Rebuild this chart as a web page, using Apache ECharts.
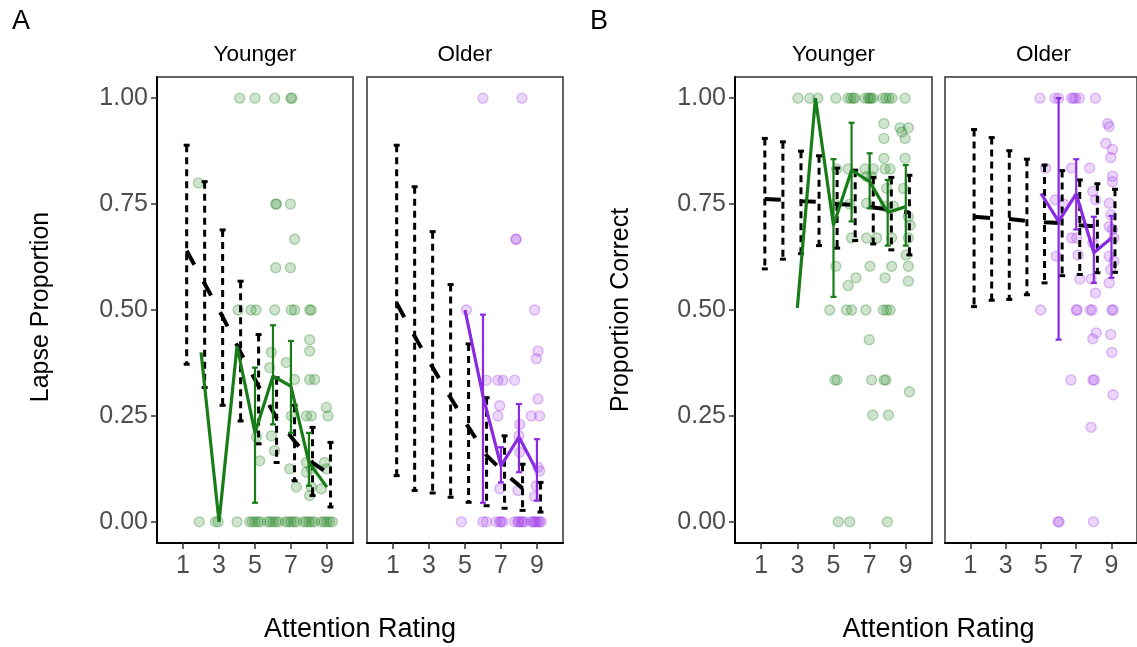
<!DOCTYPE html>
<html><head><meta charset="utf-8">
<script src="https://cdn.jsdelivr.net/npm/echarts@6/dist/echarts.min.js"></script>
<style>html,body{margin:0;padding:0;background:#fff}#c{width:1137px;height:647px}</style>
</head><body><div id="c"></div><script>
// ---------------- DATA ----------------
const ratings = [1,2,3,4,5,6,7,8,9];
const xTicks = [1,3,5,7,9];
const yTicks = [0,0.25,0.5,0.75,1];
const panelLetters = ['A','B'];
const groupNames = ['Younger','Older'];
const yTitles = ['Lapse Proportion','Proportion Correct'];
const xTitle = 'Attention Rating';

// Panel A – Younger (lapse proportion)
const lapseYoungModelMean = [0.64,0.562,0.484,0.40,0.32,0.245,0.19,0.14,0.11];
const lapseYoungModelLo   = [0.372,0.317,0.275,0.238,0.184,0.14,0.097,0.062,0.035];
const lapseYoungModelHi   = [0.889,0.803,0.689,0.568,0.442,0.34,0.275,0.223,0.1875];
const lapseYoungObsX    = [2,3,4,5,6,7,8,9];
const lapseYoungObsMean = [0.40,0.0,0.415,0.21,0.344,0.32,0.14,0.082];
const lapseYoungObsBarX  = [5,6,7,8];
const lapseYoungObsBarLo = [0.045,0.23,0.21,0.085];
const lapseYoungObsBarHi = [0.364,0.464,0.427,0.21];
const lapseYoungPoints = [
 [1.9,0],[2.8,0],[2.95,0],[4.0,0],[4.7,0],[4.85,0],[5.0,0],[5.15,0],[5.3,0],[5.7,0],[5.85,0],[6.0,0],[6.15,0],[6.3,0],
 [6.7,0],[6.85,0],[7.0,0],[7.15,0],[7.3,0],[7.7,0],[7.85,0],[8.0,0],[8.15,0],[8.3,0],[8.7,0],[8.85,0],[9.0,0],[9.15,0],[9.3,0],
 [4.15,1],[5.0,1],[6.1,1],[7.0,1],[7.05,1],
 [1.85,0.8],[6.15,0.75],[6.2,0.75],[6.97,0.75],[7.2,0.667],[6.15,0.6],[6.97,0.6],
 [4.06,0.5],[4.78,0.5],[5.06,0.5],[6.1,0.5],[7.02,0.5],[7.2,0.5],[8.04,0.5],[8.13,0.5],
 [8.04,0.43],[8.04,0.403],[5.91,0.40],[5.82,0.364],[6.74,0.376],[7.2,0.336],[8.04,0.336],[8.32,0.336],
 [7.02,0.25],[7.86,0.25],[8.13,0.25],[8.97,0.27],[9.06,0.25],[5.91,0.203],[5.08,0.2],[6.09,0.168],[5.26,0.144],
 [6.93,0.125],[7.86,0.14],[8.13,0.125],[7.86,0.117],[8.87,0.14],[8.97,0.125],[7.3,0.082],[8.13,0.082],[8.69,0.078],[8.04,0.062]
];

// Panel A – Older (lapse proportion)
const lapseOldModelMean = [0.516,0.438,0.364,0.293,0.223,0.157,0.115,0.079,0.06];
const lapseOldModelLo   = [0.109,0.074,0.068,0.058,0.046,0.038,0.032,0.027,0.023];
const lapseOldModelHi   = [0.889,0.791,0.685,0.56,0.42,0.293,0.203,0.136,0.093];
const lapseOldObsX    = [5,6,7,8,9];
const lapseOldObsMean = [0.50,0.297,0.132,0.20,0.12];
const lapseOldObsBarX  = [6,7,8,9];
const lapseOldObsBarLo = [0.045,0.093,0.117,0.05];
const lapseOldObsBarHi = [0.489,0.176,0.278,0.195];
const lapseOldPoints = [
 [6.0,1],[8.17,1],[7.82,0.667],[7.85,0.667],[5.08,0.5],[8.87,0.5],[9.06,0.403],[8.97,0.385],
 [6.19,0.334],[6.83,0.334],[7.11,0.334],[7.76,0.334],[6.93,0.274],[6.83,0.25],[9.06,0.29],[8.69,0.25],[9.15,0.25],
 [8.04,0.23],[8.0,0.203],[8.04,0.164],[9.06,0.129],[9.15,0.12],[8.97,0.085],[8.87,0.06],[6.93,0.078],[7.94,0.074],
 [4.8,0],[6.0,0],[6.19,0],[6.74,0],[6.93,0],[7.0,0],[7.11,0],[7.76,0],[7.94,0],[8.0,0],[8.13,0],[8.2,0],[8.32,0],
 [8.69,0],[8.8,0],[8.87,0],[8.95,0],[9.06,0],[9.15,0],[9.24,0]
];

// Panel B – Younger (proportion correct)
const correctYoungModelMean = [0.762,0.760,0.757,0.755,0.75,0.748,0.742,0.737,0.73];
const correctYoungModelLo   = [0.597,0.62,0.633,0.652,0.646,0.664,0.656,0.642,0.63];
const correctYoungModelHi   = [0.905,0.897,0.875,0.864,0.835,0.83,0.813,0.813,0.818];
const correctYoungObsX    = [3,4,5,6,7,8,9];
const correctYoungObsMean = [0.505,1.0,0.70,0.83,0.803,0.73,0.744];
const correctYoungObsBarX  = [5,6,7,8,9];
const correctYoungObsBarLo = [0.531,0.709,0.74,0.652,0.652];
const correctYoungObsBarHi = [0.856,0.942,0.87,0.807,0.842];
const correctYoungPoints = [
 [3.03,1],[3.68,1],[4.14,1],[5.13,1],[5.8,1],[5.96,1],[6.1,1],[6.18,1],[6.74,1],[6.91,1],[7.0,1],[7.07,1],[7.18,1],
 [7.74,1],[7.9,1],[8.07,1],[8.24,1],[8.96,1],
 [7.79,0.94],[8.68,0.93],[8.78,0.92],[9.14,0.93],[8.96,0.905],[7.79,0.905],[7.79,0.858],[8.96,0.858],
 [5.17,0.833],[5.81,0.833],[6.74,0.833],[7.2,0.833],[7.85,0.833],[8.13,0.833],[6.83,0.815],[7.11,0.815],
 [7.94,0.787],[8.87,0.787],[6.83,0.752],[5.07,0.75],[5.9,0.75],[7.85,0.745],[8.31,0.745],[9.14,0.72],[9.24,0.70],
 [6.0,0.67],[6.83,0.67],[7.39,0.67],[8.22,0.67],[9.14,0.67],[9.02,0.63],[9.14,0.603],[9.14,0.568],
 [5.13,0.603],[7.02,0.603],[8.22,0.603],[7.85,0.576],[6.24,0.576],[5.81,0.558],
 [4.79,0.5],[5.72,0.5],[6.0,0.5],[6.79,0.5],[7.76,0.5],[7.94,0.5],[8.13,0.5],[6.98,0.43],
 [5.08,0.335],[5.2,0.335],[7.11,0.335],[7.8,0.335],[7.9,0.335],[9.2,0.307],[7.17,0.252],[8.04,0.252],
 [5.26,0],[5.9,0],[7.98,0]
];

// Panel B – Older (proportion correct)
const correctOldModelMean = [0.72,0.717,0.715,0.71,0.707,0.705,0.70,0.697,0.69];
const correctOldModelLo   = [0.508,0.523,0.525,0.536,0.564,0.581,0.584,0.588,0.589];
const correctOldModelHi   = [0.926,0.907,0.876,0.856,0.842,0.829,0.807,0.798,0.785];
const correctOldObsX    = [5,6,7,8,9];
const correctOldObsMean = [0.775,0.709,0.774,0.635,0.67];
const correctOldObsBarX  = [6,7,8,9];
const correctOldObsBarLo = [0.43,0.69,0.564,0.576];
const correctOldObsBarHi = [1.0,0.856,0.72,0.722];
const correctOldPoints = [
 [4.94,1],[5.79,1],[6.0,1],[6.74,1],[6.85,1],[6.96,1],[7.18,1],[8.09,1],
 [8.78,0.94],[8.87,0.933],[8.68,0.893],[9.06,0.879],[8.96,0.86],[5.26,0.835],[6.74,0.835],[7.76,0.835],
 [9.06,0.816],[9.06,0.803],[7.94,0.78],[8.87,0.752],[5.81,0.76],[6.28,0.75],[8.09,0.76],
 [8.96,0.725],[8.87,0.697],[9.06,0.69],[7.94,0.658],[9.14,0.67],[6.74,0.67],[7.02,0.67],
 [7.11,0.63],[5.87,0.627],[8.87,0.627],[9.14,0.615],[8.96,0.595],[7.2,0.573],[7.85,0.573],[8.87,0.564],[8.09,0.54],
 [4.98,0.5],[7.0,0.5],[7.05,0.5],[7.8,0.5],[7.9,0.5],[9.02,0.5],[9.1,0.5],
 [8.13,0.446],[8.96,0.442],[7.94,0.432],[9.02,0.4],[6.7,0.335],[7.95,0.335],[8.02,0.335],[9.09,0.3],[7.85,0.223],
 [5.97,0],[6.03,0],[7.98,0]
];

// ---------------- STYLE / LAYOUT ----------------
const FONT = "'Liberation Sans', Arial, Helvetica, sans-serif";
const GREEN = '#187c18';
const PURPLE = '#8a2be2';
const DODGE = 0.2;
const grids = [
  {left:157, top:77, width:196, height:466},
  {left:367, top:77, width:196, height:466},
  {left:735, top:77, width:197, height:466},
  {left:945, top:77, width:197, height:466}
];
const panels = [
  {mMean:lapseYoungModelMean, mLo:lapseYoungModelLo, mHi:lapseYoungModelHi, oX:lapseYoungObsX, oMean:lapseYoungObsMean,
   bX:lapseYoungObsBarX, bLo:lapseYoungObsBarLo, bHi:lapseYoungObsBarHi, pts:lapseYoungPoints, color:GREEN, rgb:'34,130,34'},
  {mMean:lapseOldModelMean, mLo:lapseOldModelLo, mHi:lapseOldModelHi, oX:lapseOldObsX, oMean:lapseOldObsMean,
   bX:lapseOldObsBarX, bLo:lapseOldObsBarLo, bHi:lapseOldObsBarHi, pts:lapseOldPoints, color:PURPLE, rgb:'160,60,230'},
  {mMean:correctYoungModelMean, mLo:correctYoungModelLo, mHi:correctYoungModelHi, oX:correctYoungObsX, oMean:correctYoungObsMean,
   bX:correctYoungObsBarX, bLo:correctYoungObsBarLo, bHi:correctYoungObsBarHi, pts:correctYoungPoints, color:GREEN, rgb:'34,130,34'},
  {mMean:correctOldModelMean, mLo:correctOldModelLo, mHi:correctOldModelHi, oX:correctOldObsX, oMean:correctOldObsMean,
   bX:correctOldObsBarX, bLo:correctOldObsBarLo, bHi:correctOldObsBarHi, pts:correctOldPoints, color:PURPLE, rgb:'160,60,230'}
];

function errorBar(gi, data, color, dashed, dodge, capHalf, lw, z) {
  return {
    type:'custom', xAxisIndex:gi, yAxisIndex:gi, z:z, clip:false, silent:true,
    data:data,
    renderItem:function(params, api){
      const x = api.value(0), lo = api.value(1), hi = api.value(2);
      const t = api.coord([x+dodge, hi]);
      const b = api.coord([x+dodge, lo]);
      return {type:'group', children:[
        {type:'line', shape:{x1:t[0],y1:t[1],x2:b[0],y2:b[1]},
         style:{stroke:color, lineWidth:lw, lineDash: dashed ? [7,5] : null}},
        {type:'line', shape:{x1:t[0]-capHalf,y1:t[1],x2:t[0]+capHalf,y2:t[1]}, style:{stroke:color,lineWidth:lw}},
        {type:'line', shape:{x1:b[0]-capHalf,y1:b[1],x2:b[0]+capHalf,y2:b[1]}, style:{stroke:color,lineWidth:lw}}
      ]};
    }
  };
}

const series = [];
panels.forEach((p, gi) => {
  series.push({
    type:'scatter', xAxisIndex:gi, yAxisIndex:gi, z:1, silent:true, symbol:'circle', symbolSize:10,
    data:p.pts,
    itemStyle:{color:'rgba('+p.rgb+',0.27)', borderColor:'rgba('+p.rgb+',0.42)', borderWidth:1.3}
  });
  series.push(errorBar(gi, ratings.map((r,i)=>[r, p.mLo[i], p.mHi[i]]), '#000', true, DODGE, 3, 3, 2));
  series.push({
    type:'line', xAxisIndex:gi, yAxisIndex:gi, z:3, silent:true, symbol:'none',
    data:ratings.map((r,i)=>[r+DODGE, p.mMean[i]]),
    lineStyle:{color:'#000', width:4, type:[16,19], cap:'butt'}
  });
  series.push(errorBar(gi, p.bX.map((r,i)=>[r, p.bLo[i], p.bHi[i]]), p.color, false, 0, 3, 2.2, 4));
  series.push({
    type:'line', xAxisIndex:gi, yAxisIndex:gi, z:5, silent:true, symbol:'none',
    data:p.oX.map((r,i)=>[r, p.oMean[i]]),
    lineStyle:{color:p.color, width:3.2}
  });
});

const xAxes = grids.map((g, i) => ({
  type:'value', gridIndex:i, min:-0.45, max:10.45,
  axisLine:{show:true, onZero:false, lineStyle:{color:'#000', width:2}},
  axisTick:{show:true, customValues:xTicks, length:6, lineStyle:{color:'#333', width:1.5}},
  axisLabel:{customValues:xTicks, fontSize:25, color:'#4d4d4d', margin:11, fontFamily:FONT},
  splitLine:{show:false}
}));
const yAxes = grids.map((g, i) => ({
  type:'value', gridIndex:i, min:-0.05, max:1.05,
  axisLine:{show:i%2===0, onZero:false, lineStyle:{color:'#000', width:2}},
  axisTick:{show:i%2===0, customValues:yTicks, length:6, lineStyle:{color:'#333', width:1.5}},
  axisLabel:{show:i%2===0, customValues:yTicks, fontSize:25, color:'#4d4d4d', margin:9, fontFamily:FONT,
             formatter:v=>v.toFixed(2)},
  splitLine:{show:false}
}));

const graphics = [];
const txt = (text, x, y, size, rot) => ({
  type:'text', x:x, y:y, rotation:rot||0, silent:true,
  style:{text:text, fontSize:size, fontFamily:FONT, fill:'#000', align:'center', verticalAlign:'middle'}
});
graphics.push(txt(panelLetters[0], 21, 22, 27));
graphics.push(txt(panelLetters[1], 599, 22, 27));
grids.forEach((g, i) => {
  graphics.push(txt(groupNames[i%2], g.left + g.width/2, 55, 22.5));
});
graphics.push(txt(yTitles[0], 41, 307, 25, Math.PI/2));
graphics.push(txt(yTitles[1], 621, 310, 25, Math.PI/2));
graphics.push(txt(xTitle, (grids[0].left + grids[1].left + grids[1].width)/2, 630, 27));
graphics.push(txt(xTitle, (grids[2].left + grids[3].left + grids[3].width)/2, 630, 27));

const chart = echarts.init(document.getElementById('c'), null, {renderer:'canvas'});
chart.setOption({
  animation:false,
  backgroundColor:'#fff',
  grid:grids.map(g => Object.assign({show:true, borderColor:'#333', borderWidth:1.5, backgroundColor:'#fff'}, g)),
  xAxis:xAxes,
  yAxis:yAxes,
  series:series,
  graphic:graphics
});
</script></body></html>
